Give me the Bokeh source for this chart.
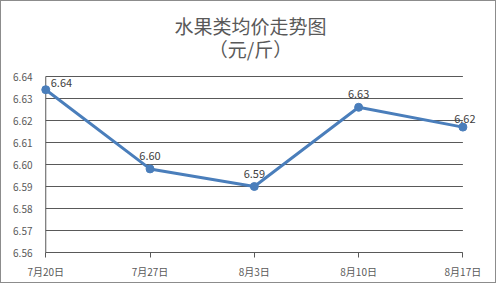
from bokeh.plotting import figure
from bokeh.models import (Range1d, FixedTicker, Label, ColumnDataSource, LabelSet,
                          NumeralTickFormatter)
from bokeh.core.properties import value
from bokeh.embed import file_html
from bokeh.resources import INLINE

title_main = "水果类均价走势图"
title_sub = "（元/斤）"
dates = ["7月20日", "7月27日", "8月3日", "8月10日", "8月17日"]
prices = [6.634, 6.598, 6.590, 6.626, 6.617]
price_labels = ["6.64", "6.60", "6.59", "6.63", "6.62"]
y_ticks = [6.56, 6.57, 6.58, 6.59, 6.60, 6.61, 6.62, 6.63, 6.64]

FONT = "Noto Sans CJK SC"
LINE_COLOR = "#4a7ebb"
AXIS_COLOR = "#595959"
PAD_L = 0.06
PAD_R = 0.14

W, H = 496, 283
BORDER_BOTTOM = 32
TOP_SPACE = 75          # pixels above the 6.64 gridline reserved for the titles
frame_h = H - BORDER_BOTTOM
plot_h = frame_h - TOP_SPACE
y_lo, y_hi = y_ticks[0], y_ticks[-1]
y_end = y_hi + (y_hi - y_lo) * TOP_SPACE / plot_h

xs = list(range(len(dates)))
src = ColumnDataSource(dict(x=xs, y=prices))

p = figure(width=W, height=H, output_backend="svg", toolbar_location=None,
           x_range=Range1d(xs[0] - PAD_L, xs[-1] + PAD_R), y_range=Range1d(y_lo, y_end),
           min_border_left=38, min_border_right=20, min_border_top=0,
           min_border_bottom=BORDER_BOTTOM, title=None)
p.styles = {"border": "1px solid #8c8c8c"}
p.outline_line_color = None
p.background_fill_color = "white"
p.border_fill_color = "white"

title_style = dict(text_font=FONT, text_font_size="19px", text_color="#595959",
                   text_align="center", text_baseline="middle",
                   x_units="canvas", y_units="canvas")
p.add_layout(Label(x=W / 2, y=23, text=title_main, **title_style))
p.add_layout(Label(x=W / 2, y=46, text=title_sub, **title_style))

# x axis
p.xaxis.ticker = FixedTicker(ticks=xs)
p.xaxis.bounds = (xs[0], xs[-1])
p.xaxis.major_label_overrides = {i: d for i, d in enumerate(dates)}
p.xaxis.axis_line_color = AXIS_COLOR
p.xaxis.major_tick_line_color = AXIS_COLOR
p.xaxis.major_tick_out = 5
p.xaxis.major_tick_in = 0
p.xaxis.minor_tick_line_color = None
p.xaxis.major_label_text_font = FONT
p.xaxis.major_label_text_font_size = "10px"
p.xaxis.major_label_text_color = "#595959"
p.xaxis.major_label_standoff = 6

# y axis (line drawn as a segment at the first category)
p.yaxis.ticker = FixedTicker(ticks=y_ticks)
p.yaxis.formatter = NumeralTickFormatter(format="0.00")
p.yaxis.axis_line_color = None
p.yaxis.major_tick_line_color = None
p.yaxis.minor_tick_line_color = None
p.yaxis.major_label_text_font = FONT
p.yaxis.major_label_text_font_size = "10px"
p.yaxis.major_label_text_color = "#595959"
p.yaxis.major_label_standoff = 1

p.xgrid.grid_line_color = None
p.ygrid.grid_line_color = None

# horizontal gridlines spanning the category extent
p.segment(x0=[xs[0]] * len(y_ticks), x1=[xs[-1]] * len(y_ticks), y0=y_ticks, y1=y_ticks,
          line_color=AXIS_COLOR, line_width=1)
# y axis line
p.segment(x0=[xs[0]], x1=[xs[0]], y0=[y_lo], y1=[y_hi],
          line_color=AXIS_COLOR, line_width=1)

p.line("x", "y", source=src, line_color=LINE_COLOR, line_width=3)
p.scatter("x", "y", source=src, size=8, fill_color=LINE_COLOR, line_color=LINE_COLOR)

lab_style = dict(text_font=value(FONT), text_font_size="11px", text_color="#404040")
mid_src = ColumnDataSource(dict(x=xs[1:-1], y=prices[1:-1], lab=price_labels[1:-1]))
first_src = ColumnDataSource(dict(x=xs[:1], y=prices[:1], lab=price_labels[:1]))
last_src = ColumnDataSource(dict(x=xs[-1:], y=prices[-1:], lab=price_labels[-1:]))
p.add_layout(LabelSet(x="x", y="y", text="lab", source=mid_src, text_align="center",
                      text_baseline="bottom", y_offset=9, **lab_style))
p.add_layout(LabelSet(x="x", y="y", text="lab", source=first_src, text_align="left",
                      text_baseline="bottom", x_offset=5, y_offset=3, **lab_style))
p.add_layout(LabelSet(x="x", y="y", text="lab", source=last_src, text_align="center",
                      text_baseline="bottom", x_offset=2, y_offset=4, **lab_style))

open("out.html", "w").write(file_html(p, INLINE))
